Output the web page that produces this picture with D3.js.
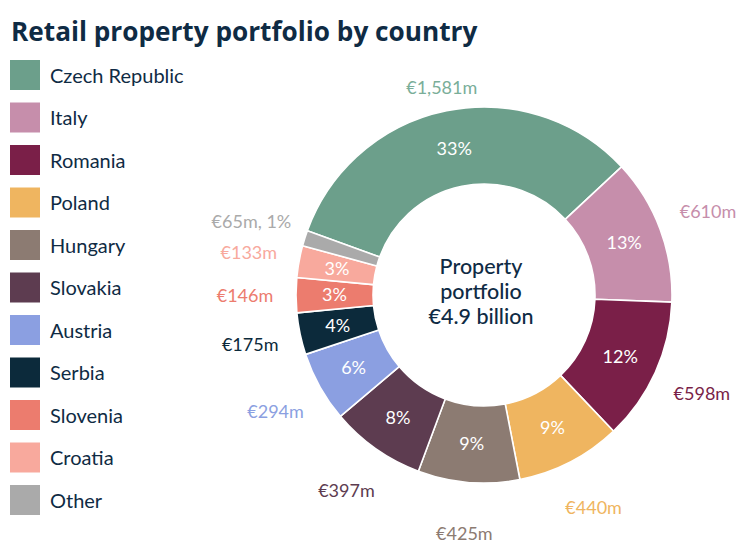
<!DOCTYPE html>
<html>
<head>
<meta charset="utf-8">
<script src="https://cdn.jsdelivr.net/npm/d3@7"></script>
<style>
  html, body { margin: 0; padding: 0; background: #ffffff; }
  svg { display: block; }
</style>
</head>
<body>
<svg id="chart" width="738" height="542"></svg>
<script>
// ---- data ----
const countries = ["Czech Republic", "Italy", "Romania", "Poland", "Hungary", "Slovakia", "Austria", "Serbia", "Slovenia", "Croatia", "Other"];
const values = [1581, 610, 598, 440, 425, 397, 294, 175, 146, 133, 65];
const valueLabels = ["€1,581m", "€610m", "€598m", "€440m", "€425m", "€397m", "€294m", "€175m", "€146m", "€133m", "€65m, 1%"];
const pctLabels = ["33%", "13%", "12%", "9%", "9%", "8%", "6%", "4%", "3%", "3%", ""];
const colors = ["#6c9f8b", "#c68eab", "#7a1f48", "#efb560", "#8c7b72", "#5d3c50", "#8b9fe1", "#0c2a3b", "#ec7c6e", "#f8a99d", "#aaaaaa"];
const labelColors = ["#7aae99", "#c68eab", "#7a1f48", "#efb560", "#8c7b72", "#5d3c50", "#8b9fe1", "#0c2a3b", "#ec7c6e", "#f8a99d", "#aaaaaa"];
const titleText = "Retail property portfolio by country";
const centerLines = ["Property", "portfolio", "€4.9 billion"];

const navy = "#0f2b44";
const svg = d3.select("#chart");

// title
svg.append("text")
  .attr("x", 11).attr("y", 41)
  .attr("font-family", "'Open Sans', sans-serif")
  .attr("font-weight", 700)
  .attr("font-size", 26.2)
  .attr("fill", navy)
  .text(titleText);

// legend
const legY = d3.scaleBand().domain(countries).range([55, 55 + 42.5 * countries.length]).paddingInner(0);
const leg = svg.append("g");
countries.forEach((c, i) => {
  const y = legY(c) + 5;
  leg.append("rect").attr("x", 10).attr("y", y).attr("width", 30).attr("height", 30).attr("fill", colors[i]);
  leg.append("text").attr("x", 50).attr("y", y + 15.5).attr("dy", "0.35em")
    .attr("font-family", "Lato, sans-serif").attr("font-size", 20)
    .attr("fill", navy).text(c);
});

// donut
const cx = 484, cy = 295, R = 188, r0 = 111;
const startA = -70 * Math.PI / 180;
const pie = d3.pie().sort(null).value(d => d).startAngle(startA).endAngle(startA + 2 * Math.PI);
const arcs = pie(values);
const arc = d3.arc().innerRadius(r0).outerRadius(R);
const g = svg.append("g").attr("transform", `translate(${cx},${cy})`);

g.selectAll("path.slice").data(arcs).join("path")
  .attr("class", "slice")
  .attr("d", arc)
  .attr("fill", (d, i) => colors[i])
  .attr("stroke", "#ffffff").attr("stroke-width", 1.6).attr("stroke-linejoin", "round");

// percentage labels
g.selectAll("text.pct").data(arcs).join("text")
  .attr("class", "pct")
  .attr("transform", d => `translate(${arc.centroid(d)})`)
  .attr("text-anchor", "middle").attr("dy", "0.35em")
  .attr("font-family", "Lato, sans-serif").attr("font-weight", 400)
  .attr("font-size", 18).attr("fill", "#ffffff")
  .text((d, i) => pctLabels[i]);

// value labels outside
const labelR = (i) => i === 0 ? 212 : (i === countries.length - 1 ? 244 : 239);
g.selectAll("text.val").data(arcs).join("text")
  .attr("class", "val")
  .attr("transform", (d, i) => {
    const a = (d.startAngle + d.endAngle) / 2;
    const rr = labelR(i);
    return `translate(${rr * Math.sin(a)},${-rr * Math.cos(a)})`;
  })
  .attr("text-anchor", "middle").attr("dy", "0.35em")
  .attr("font-family", "Lato, sans-serif").attr("font-size", 18)
  .attr("fill", (d, i) => labelColors[i])
  .text((d, i) => valueLabels[i]);

// centre text
g.selectAll("text.center").data(centerLines).join("text")
  .attr("class", "center")
  .attr("x", -3).attr("y", (d, i) => (i - 1) * 25 - 4)
  .attr("text-anchor", "middle").attr("dy", "0.35em")
  .attr("font-family", "Lato, sans-serif").attr("font-weight", 500)
  .attr("font-size", 21.5).attr("fill", navy)
  .text(d => d);
</script>
</body>
</html>
